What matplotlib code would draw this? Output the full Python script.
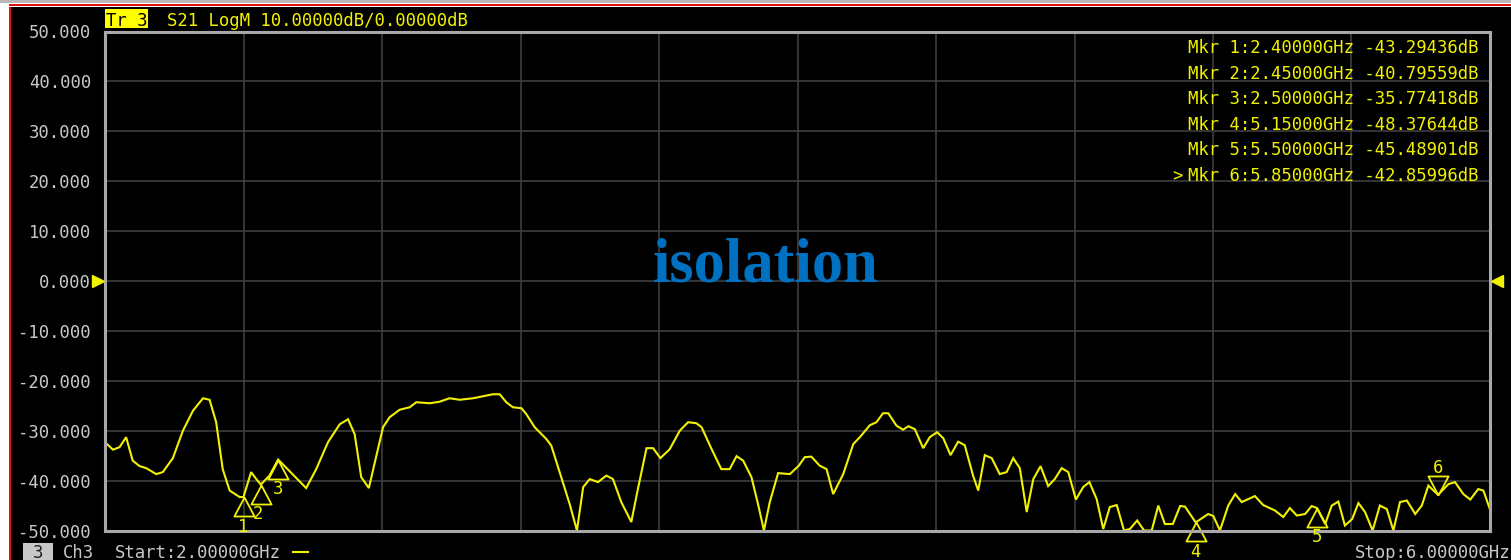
import numpy as np
import matplotlib
matplotlib.use("Agg")
import matplotlib.pyplot as plt
from matplotlib.patches import Rectangle
from matplotlib.lines import Line2D
from matplotlib.transforms import blended_transform_factory

# ---------------- data ----------------
freq_ghz = [
    2.000, 2.023, 2.042, 2.061, 2.080, 2.100, 2.119, 2.148, 2.167, 2.196,
    2.225, 2.254, 2.283, 2.302, 2.321, 2.340, 2.360, 2.389, 2.400, 2.422,
    2.437, 2.450, 2.475, 2.500, 2.581, 2.610, 2.644, 2.678, 2.702, 2.721,
    2.740, 2.762, 2.784, 2.803, 2.822, 2.851, 2.880, 2.899, 2.938, 2.966,
    2.995, 3.024, 3.063, 3.092, 3.120, 3.140, 3.159, 3.178, 3.203, 3.217,
    3.241, 3.275, 3.289, 3.313, 3.342, 3.363, 3.381, 3.400, 3.424, 3.448,
    3.467, 3.491, 3.520, 3.539, 3.564, 3.583, 3.604, 3.631, 3.660, 3.684,
    3.708, 3.723, 3.752, 3.780, 3.804, 3.824, 3.843, 3.867, 3.886, 3.903,
    3.920, 3.944, 3.978, 4.004, 4.021, 4.040, 4.064, 4.084, 4.103, 4.132,
    4.161, 4.180, 4.209, 4.228, 4.247, 4.262, 4.286, 4.305, 4.320, 4.339,
    4.363, 4.382, 4.403, 4.421, 4.442, 4.464, 4.483, 4.507, 4.522, 4.541,
    4.561, 4.584, 4.604, 4.623, 4.642, 4.662, 4.681, 4.702, 4.724, 4.743,
    4.763, 4.782, 4.804, 4.825, 4.843, 4.864, 4.883, 4.902, 4.922, 4.943,
    4.960, 4.981, 5.001, 5.023, 5.042, 5.061, 5.084, 5.105, 5.119, 5.150,
    5.186, 5.201, 5.220, 5.244, 5.264, 5.283, 5.321, 5.345, 5.379, 5.403,
    5.422, 5.442, 5.466, 5.485, 5.500, 5.524, 5.543, 5.562, 5.581, 5.602,
    5.620, 5.639, 5.661, 5.682, 5.702, 5.721, 5.740, 5.760, 5.784, 5.803,
    5.822, 5.850, 5.880, 5.899, 5.923, 5.943, 5.966, 5.981, 6.000,
]
s21_db = [
    -32.3, -33.8, -33.3, -31.3, -36.0, -37.1, -37.5, -38.7, -38.3, -35.5,
    -30.0, -26.0, -23.5, -23.8, -28.3, -37.7, -42.0, -43.3, -43.29, -38.3,
    -39.7, -40.80, -39.0, -35.77, -41.5, -37.7, -32.3, -28.7, -27.7, -30.7,
    -39.3, -41.5, -35.0, -29.3, -27.3, -25.8, -25.3, -24.3, -24.5, -24.2,
    -23.5, -23.8, -23.5, -23.1, -22.7, -22.7, -24.3, -25.3, -25.5, -26.7,
    -29.3, -31.7, -33.0, -38.3, -44.7, -50.0, -41.3, -39.7, -40.3, -39.0,
    -39.7, -44.3, -48.3, -41.7, -33.5, -33.5, -35.5, -33.7, -30.0, -28.3,
    -28.5, -29.3, -33.7, -37.7, -37.7, -35.1, -36.0, -39.3, -44.7, -50.0,
    -44.3, -38.5, -38.7, -37.0, -35.3, -35.2, -37.0, -37.7, -42.7, -38.7,
    -32.7, -31.3, -28.9, -28.3, -26.5, -26.5, -29.0, -29.8, -29.1, -29.7,
    -33.5, -31.3, -30.3, -31.5, -34.9, -32.2, -32.9, -39.0, -42.0, -34.9,
    -35.5, -38.7, -38.3, -35.5, -37.5, -46.3, -39.7, -37.1, -41.1, -39.7,
    -37.5, -38.3, -43.8, -41.3, -40.3, -43.7, -49.7, -45.3, -44.9, -50.0,
    -49.7, -48.0, -50.0, -50.0, -45.0, -48.7, -48.7, -45.1, -45.2, -48.38,
    -46.7, -47.1, -50.0, -45.0, -42.7, -44.3, -43.1, -44.9, -46.0, -47.3,
    -45.5, -47.0, -46.7, -45.1, -45.49, -48.7, -45.0, -44.2, -49.0, -47.7,
    -44.5, -46.3, -50.0, -45.0, -45.7, -50.0, -44.3, -44.0, -46.7, -45.0,
    -41.0, -42.86, -40.7, -40.3, -42.7, -43.8, -41.7, -42.0, -45.8,
]
marker_ids = [1, 2, 3, 4, 5, 6]
marker_freqs = [2.40, 2.45, 2.50, 5.15, 5.50, 5.85]
marker_vals = [-43.29436, -40.79559, -35.77418, -48.37644, -45.48901, -42.85996]
y_ticks = [50, 40, 30, 20, 10, 0, -10, -20, -30, -40, -50]
x_ticks = [2.0, 2.4, 2.8, 3.2, 3.6, 4.0, 4.4, 4.8, 5.2, 5.6, 6.0]
header_text = "S21 LogM 10.00000dB/0.00000dB"
start_text = "Start:2.00000GHz"
stop_text = "Stop:6.00000GHz"

# ---------------- figure ----------------
W, H = 1511, 560
fig = plt.figure(figsize=(W / 100, H / 100), dpi=100, facecolor="black")

def P(x, y):
    return (x / W, 1 - y / H)

MONO = "DejaVu Sans Mono"
FS = 12.4
YEL = "#f2f200"
GRAY_TXT = "#c8c8c8"

ax = fig.add_axes([105 / W, 1 - 530.5 / H, (1490 - 105) / W, (530.5 - 31.5) / H])
ax.set_facecolor("black")
ax.set_xlim(2.0, 6.0)
ax.set_ylim(-50, 50)
ax.set_xticks(x_ticks)
ax.set_yticks(y_ticks)
ax.set_yticklabels([f"{v:.3f}" for v in y_ticks], fontfamily=MONO, fontsize=FS, color=GRAY_TXT)
ax.set_xticklabels([])
ax.tick_params(length=0, pad=10)
ax.grid(True, color="#3e3e3e", lw=1.2, zorder=0)
for sp in ax.spines.values():
    sp.set_color("#a8a8a8")
    sp.set_linewidth(2.2)
    sp.set_zorder(5)

ax.plot(freq_ghz, s21_db, color=YEL, lw=1.5, zorder=3, solid_joinstyle="miter")

# marker triangles (apex on the trace)
up_tri = [(0, 0), (-0.53, -1), (0.53, -1), (0, 0)]
down_tri = [(0, 0), (-0.53, 1), (0.53, 1), (0, 0)]
for mid, f, v in zip(marker_ids, marker_freqs, marker_vals):
    active = (mid == 6)
    ax.plot([f], [v], marker=down_tri if active else up_tri, ms=27.4,
            mfc="none", mec=YEL, mew=1.3, ls="none", zorder=4, clip_on=False)
    dy = 20.6 if active else -19.8
    dx = -1.8 if mid == 2 else 0
    ax.annotate(str(mid), (f, v), xytext=(dx, dy), textcoords="offset points",
                ha="center", va="center_baseline", fontfamily=MONO, fontsize=FS,
                color=YEL, annotation_clip=False, zorder=6)

# marker table
for i, (mid, f, v) in enumerate(zip(marker_ids, marker_freqs, marker_vals)):
    yb = 53.3 + 25.5 * i
    fig.text(*P(1478, yb), f"Mkr {mid}:{f:.5f}GHz {v:.5f}dB", ha="right", va="baseline",
             fontfamily=MONO, fontsize=FS, color=YEL)
fig.text(*P(1177, 53.3 + 25.5 * 5), ">", ha="center", va="baseline",
         fontfamily=MONO, fontsize=FS, color=YEL)

# isolation label
fig.text(*P(766, 282), "isolation", ha="center", va="baseline",
         fontfamily="Liberation Serif", fontweight="bold", fontsize=45, color="#0070c0")

# reference level arrows at 0 dB
bt = blended_transform_factory(fig.transFigure, ax.transData)
fig.add_artist(Line2D([98 / W], [0], marker=">", ms=9, color=YEL, mec=YEL, transform=bt))
fig.add_artist(Line2D([1497 / W], [0], marker="<", ms=9, color=YEL, mec=YEL, transform=bt))

# header
fig.add_artist(Rectangle(P(105, 28.3), 42.5 / W, 19 / H, transform=fig.transFigure,
                         facecolor="#ffff00", edgecolor="none"))
fig.text(*P(106, 25.5), "Tr 3", ha="left", va="baseline", fontfamily=MONO, fontsize=FS, color="black")
fig.text(*P(167, 25.5), header_text, ha="left", va="baseline", fontfamily=MONO, fontsize=FS, color=YEL)

# bottom status line
fig.add_artist(Rectangle(P(22.7, 560), 30.3 / W, 17.3 / H, transform=fig.transFigure,
                         facecolor="#c8c8c8", edgecolor="none"))
fig.text(*P(38, 558), "3", ha="center", va="baseline", fontfamily=MONO, fontsize=FS, color="#202020")
fig.text(*P(63, 558), "Ch3", ha="left", va="baseline", fontfamily=MONO, fontsize=FS, color=GRAY_TXT)
fig.text(*P(115, 558), start_text, ha="left", va="baseline", fontfamily=MONO, fontsize=FS, color=GRAY_TXT)
fig.add_artist(Line2D([293 / W, 308 / W], [1 - 551.5 / H] * 2, color=YEL, lw=1.5, transform=fig.transFigure))
fig.text(*P(1355, 558), stop_text, ha="left", va="baseline", fontfamily=MONO, fontsize=FS, color=GRAY_TXT)

# window frame decoration
fig.add_artist(Rectangle((0, 0), 9 / W, 1, transform=fig.transFigure, facecolor="white", edgecolor="none"))
fig.add_artist(Rectangle(P(9, 560), 1.6 / W, 1, transform=fig.transFigure, facecolor="#e01010", edgecolor="none"))
fig.add_artist(Rectangle(P(0, 7), 1, 7 / H, transform=fig.transFigure, facecolor="white", edgecolor="none"))
fig.add_artist(Rectangle(P(0, 2.7), 1, 2.7 / H, transform=fig.transFigure, facecolor="#b8b8b8", edgecolor="none"))
fig.add_artist(Rectangle(P(9, 5.8), 1, 1.8 / H, transform=fig.transFigure, facecolor="#e01010", edgecolor="none"))

fig.savefig("out.png", dpi=100, facecolor="black")
